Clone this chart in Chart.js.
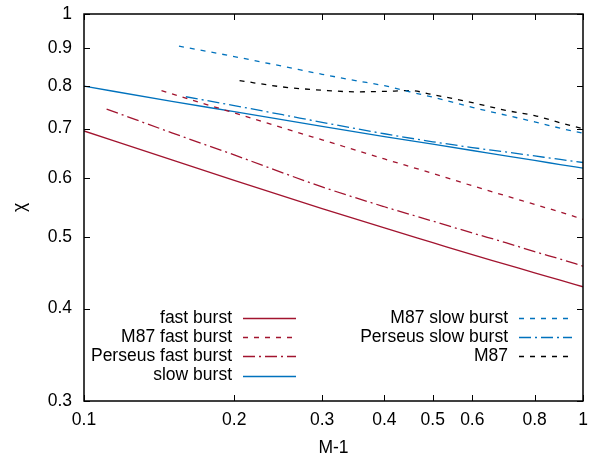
<!DOCTYPE html>
<html lang="en">
<head>
<meta charset="UTF-8">
<title>chi vs M-1</title>
<script src="https://cdn.jsdelivr.net/npm/chart.js"></script>
<style>
  body { margin: 0; background: #fff; }
</style>
</head>
<body>
<canvas id="chi-chart" width="590" height="458"></canvas>
<script>
// values (log-log axes)
var fastBurstX = [0.1, 0.15, 0.2, 0.3, 0.4, 0.5, 0.6, 0.7, 0.8, 0.9, 1.0];
var fastBurstY = [0.695, 0.635, 0.596, 0.546, 0.514, 0.491, 0.473, 0.459, 0.447, 0.437, 0.428];

var m87FastX = [0.143, 0.2, 0.3, 0.4, 0.5, 0.6, 0.7, 0.8, 0.9, 1.0];
var m87FastY = [0.788, 0.735, 0.676, 0.637, 0.609, 0.586, 0.568, 0.553, 0.540, 0.528];

var perseusFastX = [0.111, 0.15, 0.2, 0.3, 0.4, 0.5, 0.6, 0.7, 0.8, 0.9, 1.0];
var perseusFastY = [0.744, 0.691, 0.645, 0.584, 0.549, 0.525, 0.506, 0.491, 0.4775, 0.4665, 0.4565];

var slowBurstX = [0.1, 0.15, 0.2, 0.3, 0.4, 0.5, 0.6, 0.7, 0.8, 0.9, 1.0];
var slowBurstY = [0.799, 0.762, 0.738, 0.705, 0.683, 0.667, 0.654, 0.643, 0.634, 0.626, 0.619];

var m87SlowX = [0.155, 0.2, 0.25, 0.3, 0.35, 0.4, 0.45, 0.5, 0.6, 0.7, 0.8, 0.9, 1.0];
var m87SlowY = [0.905, 0.876, 0.850, 0.829, 0.813, 0.800, 0.785, 0.772, 0.748, 0.730, 0.715, 0.701, 0.690];

var perseusSlowX = [0.16, 0.2, 0.25, 0.3, 0.4, 0.5, 0.6, 0.7, 0.8, 0.9, 1.0];
var perseusSlowY = [0.773, 0.752, 0.731, 0.714, 0.689, 0.672, 0.660, 0.651, 0.643, 0.636, 0.630];

var m87X = [0.205, 0.25, 0.3, 0.35, 0.4, 0.45, 0.5, 0.6, 0.7, 0.8, 0.9, 1.0];
var m87Y = [0.813, 0.797, 0.789, 0.785, 0.786, 0.788, 0.778, 0.759, 0.741, 0.729, 0.713, 0.700];

var xTicks = [0.1, 0.2, 0.3, 0.4, 0.5, 0.6, 0.8, 1];
var yTicks = [0.3, 0.4, 0.5, 0.6, 0.7, 0.8, 0.9, 1];

var RED = '#a2142f';
var BLUE = '#0072bd';
var FONT = '"Liberation Sans", Arial, sans-serif';

function pts(xs, ys) {
    return xs.map(function(x, i) { return {x: x, y: ys[i]}; });
}

function line(label, xs, ys, color, dash) {
    return {
        label: label,
        data: pts(xs, ys),
        borderColor: color,
        borderWidth: 1.3,
        borderDash: dash,
        pointRadius: 0,
        cubicInterpolationMode: 'monotone',
        fill: false
    };
}

// box round the plot plus inward ticks on all four sides
var framePlugin = {
    id: 'frame',
    afterDraw: function(chart) {
        var ctx = chart.ctx, a = chart.chartArea;
        var xs = chart.scales.x, ys = chart.scales.y;
        ctx.save();
        ctx.strokeStyle = '#000';
        ctx.lineWidth = 1;
        ctx.setLineDash([]);
        ctx.beginPath();
        xTicks.forEach(function(v) {
            var px = Math.round(xs.getPixelForValue(v)) + 0.5;
            ctx.moveTo(px, a.bottom); ctx.lineTo(px, a.bottom - 6);
            ctx.moveTo(px, a.top); ctx.lineTo(px, a.top + 6);
        });
        yTicks.forEach(function(v) {
            var py = Math.round(ys.getPixelForValue(v)) + 0.5;
            ctx.moveTo(a.left, py); ctx.lineTo(a.left + 6, py);
            ctx.moveTo(a.right, py); ctx.lineTo(a.right - 6, py);
        });
        ctx.stroke();
        ctx.lineWidth = 1.5;
        ctx.strokeRect(a.left, a.top, a.right - a.left, a.bottom - a.top);
        ctx.restore();
    }
};

// gnuplot style key: two columns, text right aligned, sample line after it
var keyPlugin = {
    id: 'key',
    afterDraw: function(chart) {
        var ctx = chart.ctx;
        var cols = [{textRight: 232, x0: 243, x1: 296}, {textRight: 508, x0: 519, x1: 572}];
        ctx.save();
        ctx.font = '17.5px ' + FONT;
        ctx.textAlign = 'right';
        ctx.textBaseline = 'middle';
        chart.data.datasets.forEach(function(ds, i) {
            var c = i < 4 ? cols[0] : cols[1];
            var row = i < 4 ? i : i - 4;
            var y = 318 + row * 19.2;
            ctx.fillStyle = '#000';
            ctx.fillText(ds.label, c.textRight, y);
            ctx.strokeStyle = ds.borderColor;
            ctx.lineWidth = ds.borderWidth;
            ctx.setLineDash(ds.borderDash || []);
            ctx.beginPath();
            ctx.moveTo(c.x0, Math.round(y) + 0.5);
            ctx.lineTo(c.x1, Math.round(y) + 0.5);
            ctx.stroke();
        });
        ctx.restore();
    }
};

Chart.defaults.font.family = FONT;
Chart.defaults.font.size = 17.5;
Chart.defaults.color = '#000';

var ctx = document.getElementById('chi-chart').getContext('2d');
var chart = new Chart(ctx, {
    type: 'line',
    data: {
        datasets: [
            line('fast burst', fastBurstX, fastBurstY, RED, []),
            line('M87 fast burst', m87FastX, m87FastY, RED, [5, 6]),
            line('Perseus fast burst', perseusFastX, perseusFastY, RED, [12, 4, 2, 4]),
            line('slow burst', slowBurstX, slowBurstY, BLUE, []),
            line('M87 slow burst', m87SlowX, m87SlowY, BLUE, [5, 6]),
            line('Perseus slow burst', perseusSlowX, perseusSlowY, BLUE, [12, 4, 2, 4]),
            line('M87', m87X, m87Y, '#000', [5, 6])
        ]
    },
    options: {
        responsive: false,
        animation: false,
        layout: { padding: { top: 14, right: 7, bottom: 0, left: 0 } },
        plugins: {
            legend: { display: false },
            tooltip: { enabled: false }
        },
        scales: {
            x: {
                type: 'logarithmic',
                min: 0.1,
                max: 1,
                afterBuildTicks: function(scale) {
                    scale.ticks = xTicks.map(function(v) { return {value: v}; });
                },
                afterFit: function(scale) {
                    scale.height = 57;
                    scale.paddingLeft = 0;
                    scale.paddingRight = 0;
                },
                grid: { display: false, drawTicks: false },
                border: { display: false },
                ticks: {
                    padding: 9,
                    maxRotation: 0,
                    autoSkip: false,
                    callback: function(v) { return String(v); }
                },
                title: { display: true, text: 'M-1', padding: { top: 0, bottom: -1 } }
            },
            y: {
                type: 'logarithmic',
                min: 0.3,
                max: 1,
                afterBuildTicks: function(scale) {
                    scale.ticks = yTicks.map(function(v) { return {value: v}; });
                },
                afterFit: function(scale) {
                    scale.width = 84;
                    scale.paddingTop = 0;
                    scale.paddingBottom = 0;
                },
                grid: { display: false, drawTicks: false },
                border: { display: false },
                ticks: {
                    padding: 12,
                    autoSkip: false,
                    callback: function(v) { return String(v); }
                },
                title: { display: true, text: 'χ', padding: { top: 10, bottom: 0 } }
            }
        }
    },
    plugins: [framePlugin, keyPlugin]
});
</script>
</body>
</html>
